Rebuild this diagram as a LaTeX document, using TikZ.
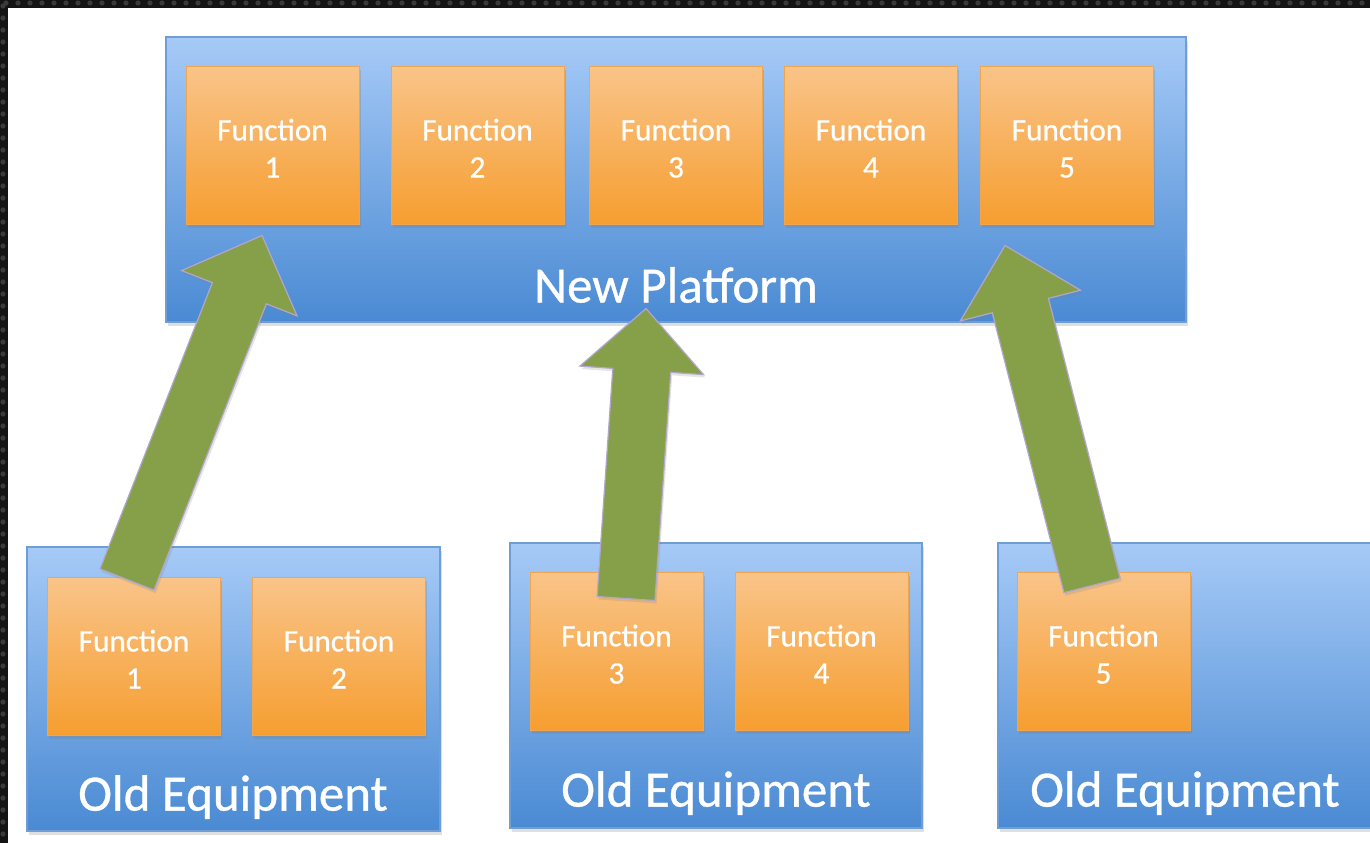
\documentclass[tikz,border=0pt]{standalone}
\usepackage{fontspec}
\setmainfont{Carlito}
\newfontfamily\boxfont{Carlito}[FakeBold=0.7]
\usetikzlibrary{calc,shadows}

\definecolor{panelTop}{HTML}{A6CAF7}
\definecolor{panelBot}{HTML}{4A8AD3}
\definecolor{panelEdge}{HTML}{6F9DD6}
\definecolor{funcTop}{HTML}{F9C489}
\definecolor{funcBot}{HTML}{F69E30}
\definecolor{funcEdge}{HTML}{F0A650}
\definecolor{arrowGreen}{HTML}{86A04A}
\definecolor{arrowEdge}{HTML}{B3A6CB}
\definecolor{frameDark}{HTML}{141414}
\definecolor{frameDot}{HTML}{3A3A3A}

% thick block arrow from tail point #1 to tip point #2
\newcommand\drawBigArrow[2]{%
  \coordinate (ah) at ($(#2)!31pt!(#1)$);
  \draw[bigarrow]
    ($(#1)!14.5pt!90:(#2)$) -- ($(ah)!14.5pt!90:(#2)$) -- ($(ah)!31pt!90:(#2)$)
    -- (#2)
    -- ($(ah)!31pt!-90:(#2)$) -- ($(ah)!14.5pt!-90:(#2)$) -- ($(#1)!14.5pt!-90:(#2)$)
    -- cycle;
}

\begin{document}
\begin{tikzpicture}[x=0.5pt,y=-0.5pt,
  panel/.style={draw=panelEdge, line width=0.6pt, top color=panelTop,
    bottom color=panelBot, inner sep=0pt,
    drop shadow={opacity=0.25, shadow xshift=0.8pt, shadow yshift=-2pt}},
  func/.style={draw=funcEdge, line width=0.5pt, top color=funcTop,
    bottom color=funcBot, minimum width=86.5pt, minimum height=79pt,
    inner sep=0pt,
    drop shadow={opacity=0.3, shadow xshift=0.8pt, shadow yshift=-1.8pt}},
  fnText/.style={text=white, align=center, inner sep=0pt, yshift=-1.6pt,
    font=\boxfont\fontsize{15.6}{18.6}\selectfont},
  fn/.style={func, label={[fnText]center:{Function\\#1}}},
  biglabel/.style={text=white, inner sep=0pt,
    font=\boxfont\fontsize{25.5}{30}\selectfont},
  bigarrow/.style={fill=arrowGreen, draw=arrowEdge, line width=0.6pt,
    line join=miter,
    drop shadow={opacity=0.2, shadow xshift=0.8pt, shadow yshift=-1.5pt}}
]
\useasboundingbox (0,0) rectangle (1370,843);
\clip (0,0) rectangle (1370,843);
\fill[white] (0,0) rectangle (1370,843);

% dark frame along the top and left edges
\fill[frameDark] (0,0) rectangle (1370,8);
\fill[frameDark] (0,0) rectangle (8,843);
\foreach \i in {6,18,...,1370} \fill[frameDot] (\i,3) circle (2.6);
\foreach \j in {6,18,...,843} \fill[frameDot] (3,\j) circle (2.6);

% new platform
\node[panel, minimum width=510pt, minimum height=142.5pt] (newP) at (676,179.5) {};
\node[fn=1] (nF1) at (272.5,145) {};
\node[fn=2] (nF2) at (477.5,145) {};
\node[fn=3] (nF3) at (676,145)   {};
\node[fn=4] (nF4) at (871,145)   {};
\node[fn=5] (nF5) at (1067,145)  {};
\node[biglabel] (newL) at (676,285) {New Platform};

% old equipment, left
\node[panel, minimum width=206.5pt, minimum height=142pt] (oldA) at (233.5,689) {};
\node[fn=1] (oF1) at (134,656) {};
\node[fn=2] (oF2) at (339,656) {};
\node[biglabel] (oldAL) at (233,797) {Old Equipment};

% old equipment, middle
\node[panel, minimum width=206pt, minimum height=142.5pt] (oldB) at (716,685.5) {};
\node[fn=3] (oF3) at (616.5,651) {};
\node[fn=4] (oF4) at (821.5,651) {};
\node[biglabel] (oldBL) at (716,793) {Old Equipment};

% old equipment, right
\node[panel, minimum width=206.5pt, minimum height=142.5pt] (oldC) at (1204.5,685.5) {};
\node[fn=5] (oF5) at (1103.5,651) {};
\node[biglabel] (oldCL) at (1185,793) {Old Equipment};

% migration arrows
\coordinate (t1) at ($(oF1.north)+(-7,3)$);
\coordinate (p1) at ($(nF1.south)+(-10.5,11)$);
\coordinate (t2) at ($(oF3.north)+(9.5,27)$);
\coordinate (p2) at ($(nF3.south)+(-30,84)$);
\coordinate (t3) at ($(oF5.north)+(-11.5,14)$);
\coordinate (p3) at ($(nF5.south)+(-62,21)$);
\drawBigArrow{t1}{p1}
\drawBigArrow{t2}{p2}
\drawBigArrow{t3}{p3}
\end{tikzpicture}
\end{document}
